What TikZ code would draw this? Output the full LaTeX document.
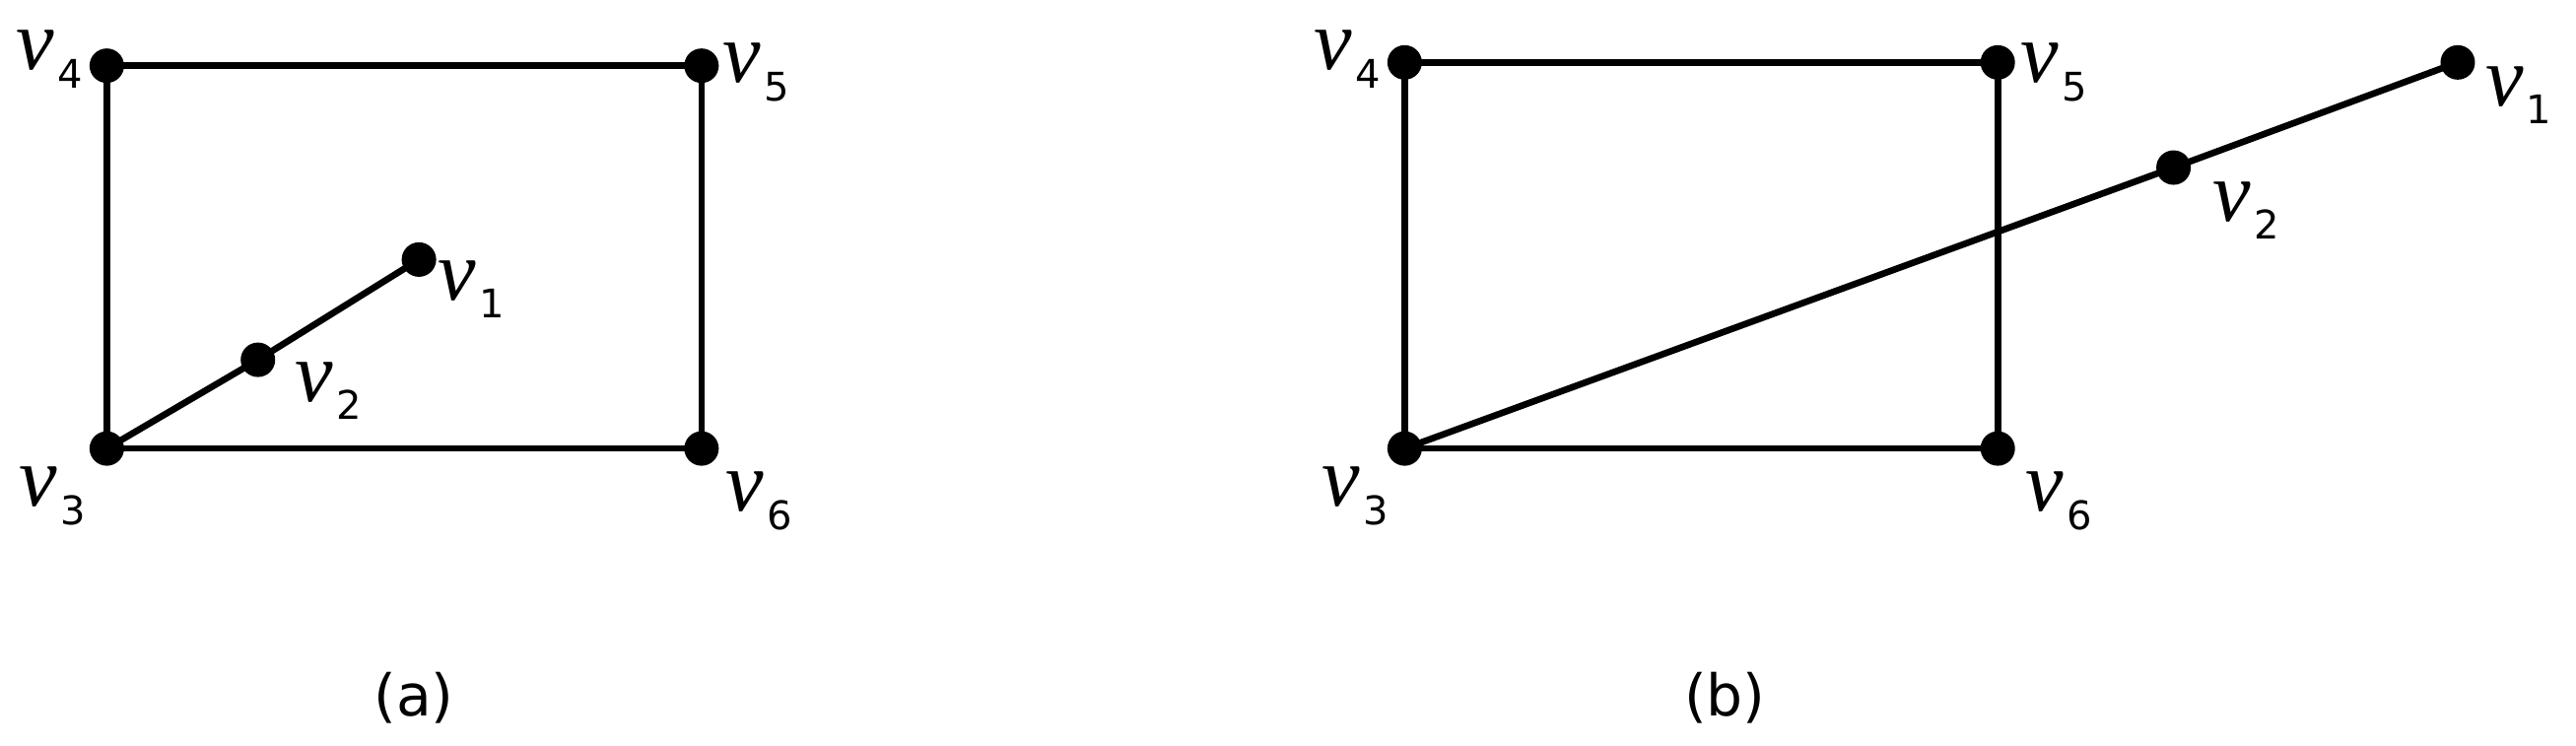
\documentclass[tikz,border=0pt]{standalone}
\usepackage{fontspec}
\setmainfont{DejaVu Sans}
\newfontfamily\vfont{Liberation Serif}
\newcommand{\lab}[1]{{\fontsize{52}{52}\selectfont\vfont\itshape v}\kern2pt\raisebox{-11pt}{\fontsize{24}{24}\selectfont #1}}
\begin{document}
\begin{tikzpicture}[x=1pt,y=-1pt,
  dot/.style={circle,fill=black,inner sep=0pt,minimum size=21pt},
  edge/.style={line width=4pt},
  lbl/.style={inner sep=0pt,anchor=center},
  captext/.style={font=\fontsize{35}{35}\selectfont}]
\useasboundingbox (0,0) rectangle (1568,454);
% (a)
\node[dot] (a4) at (65,40) {};
\node[dot] (a5) at (427,40) {};
\node[dot] (a3) at (65,273) {};
\node[dot] (a6) at (427,273) {};
\node[dot] (a2) at (157,219) {};
\node[dot] (a1) at (255,158) {};
\draw[edge] (a4.center)--(a5.center)--(a6.center)--(a3.center)--(a4.center);
\draw[edge] (a3.center)--(a2.center)--(a1.center);
\node[lbl] (la4) at (30,36) {\lab{4}};
\node[lbl] (la5) at (460,44) {\lab{5}};
\node[lbl] (la1) at (287,176) {\lab{1}};
\node[lbl] (la2) at (200,238) {\lab{2}};
\node[lbl] (la3) at (32,302) {\lab{3}};
\node[lbl] (la6) at (462,305) {\lab{6}};
\node[captext] (ca) at (252,425) {(a)};
% (b)
\node[dot] (b4) at (855,38) {};
\node[dot] (b5) at (1216,38) {};
\node[dot] (b3) at (855,273) {};
\node[dot] (b6) at (1216,273) {};
\node[dot] (b2) at (1323,102) {};
\node[dot] (b1) at (1496,38) {};
\draw[edge] (b4.center)--(b5.center)--(b6.center)--(b3.center)--(b4.center);
\draw[edge] (b3.center)--(b2.center)--(b1.center);
\node[lbl] (lb4) at (820,36) {\lab{4}};
\node[lbl] (lb5) at (1250,44) {\lab{5}};
\node[lbl] (lb1) at (1533,58) {\lab{1}};
\node[lbl] (lb2) at (1367,128) {\lab{2}};
\node[lbl] (lb3) at (825,302) {\lab{3}};
\node[lbl] (lb6) at (1253,305) {\lab{6}};
\node[captext] (cb) at (1050,425) {(b)};
\end{tikzpicture}
\end{document}
